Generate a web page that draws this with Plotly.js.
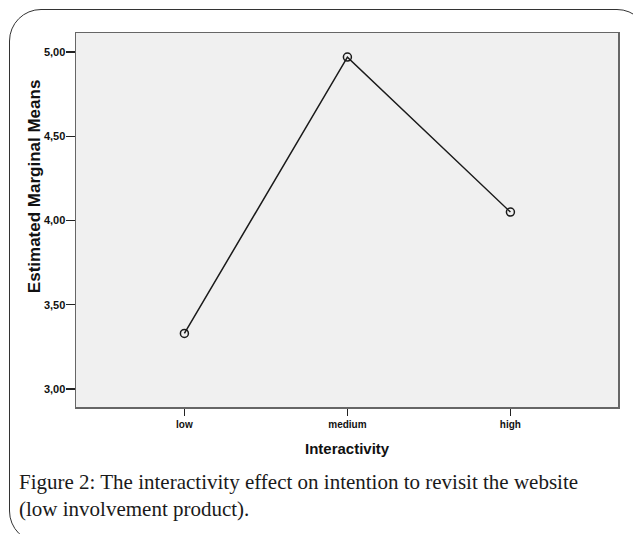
<!DOCTYPE html>
<html>
<head>
<meta charset="utf-8">
<script src="https://cdn.plot.ly/plotly-3.0.1.min.js"></script>
<style>
  html, body { margin: 0; padding: 0; background: #fff; overflow: hidden; }
  #wrap { position: relative; width: 633px; height: 534px; overflow: hidden; }
  #chart { position: absolute; left: 0; top: 0; width: 633px; height: 534px; }
  #frame { position: absolute; left: 9px; top: 9px; width: 640px; height: 534px;
           border: 1.3px solid #333; border-radius: 32px; pointer-events: none; box-sizing: border-box; }
</style>
</head>
<body>
<div id="wrap">
  <div id="chart"></div>
  <div id="frame"></div>
</div>
<script>
// Data
const categories = ["low", "medium", "high"];
const tickLabels = ["low", "medium", "high"];
const means = [3.33, 4.97, 4.05];
const yTickValues = [3.0, 3.5, 4.0, 4.5, 5.0];
const yTickLabels = ["3,00", "3,50", "4,00", "4,50", "5,00"];
const xTitle = "Interactivity";
const yTitle = "Estimated Marginal Means";
const captionText = "Figure 2: The interactivity effect on intention to revisit the website<br>(low involvement product).";

const trace = {
  x: [0, 1, 2],
  y: means,
  type: "scatter",
  mode: "lines+markers",
  line: { color: "#1a1a1a", width: 1.5 },
  marker: { symbol: "circle-open", size: 8, color: "#1a1a1a", line: { width: 1.5, color: "#1a1a1a" } },
  hoverinfo: "skip"
};

const layout = {
  width: 633,
  height: 534,
  margin: { l: 76, r: 15, t: 33, b: 127, pad: 0 },
  paper_bgcolor: "#ffffff",
  plot_bgcolor: "#f0f0f0",
  showlegend: false,
  font: { family: "Liberation Sans, Arial, sans-serif", color: "#111" },
  xaxis: {
    range: [-0.665, 2.66],
    tickvals: [0, 1, 2],
    ticktext: tickLabels,
    ticks: "outside",
    ticklen: 7,
    tickwidth: 1.3,
    tickcolor: "#222",
    showgrid: false,
    zeroline: false,
    showline: true,
    mirror: true,
    linecolor: "#666",
    linewidth: 1.5,
    tickfont: { family: "Liberation Sans, Arial, sans-serif", size: 10, color: "#111", weight: "bold" },
    fixedrange: true
  },
  yaxis: {
    range: [2.893, 5.113],
    tickvals: yTickValues,
    ticktext: yTickLabels,
    ticks: "outside",
    ticklen: 9,
    tickwidth: 1.3,
    tickcolor: "#222",
    ticklabelstandoff: -2,
    showgrid: false,
    zeroline: false,
    showline: true,
    mirror: true,
    linecolor: "#666",
    linewidth: 1.5,
    tickfont: { family: "Liberation Sans, Arial, sans-serif", size: 11, color: "#111", weight: "bold" },
    fixedrange: true
  },
  annotations: [
    {
      text: xTitle, xref: "paper", yref: "paper", x: 0.5, y: -0.11,
      xanchor: "center", yanchor: "middle", showarrow: false,
      font: { family: "Liberation Sans, Arial, sans-serif", size: 15, color: "#111", weight: "bold" }
    },
    {
      text: yTitle, xref: "paper", yref: "paper", x: -0.076, y: 0.59,
      xanchor: "center", yanchor: "middle", textangle: -90, showarrow: false,
      font: { family: "Liberation Sans, Arial, sans-serif", size: 17, color: "#111", weight: "bold" }
    },
    {
      text: captionText, xref: "paper", yref: "paper", x: -0.108, y: -0.163,
      xanchor: "left", yanchor: "top", align: "left", showarrow: false,
      font: { family: "Liberation Serif, Times New Roman, serif", size: 21, color: "#1a1a1a" }
    }
  ]
};

Plotly.newPlot("chart", [trace], layout, { staticPlot: true, displayModeBar: false });
</script>
</body>
</html>
